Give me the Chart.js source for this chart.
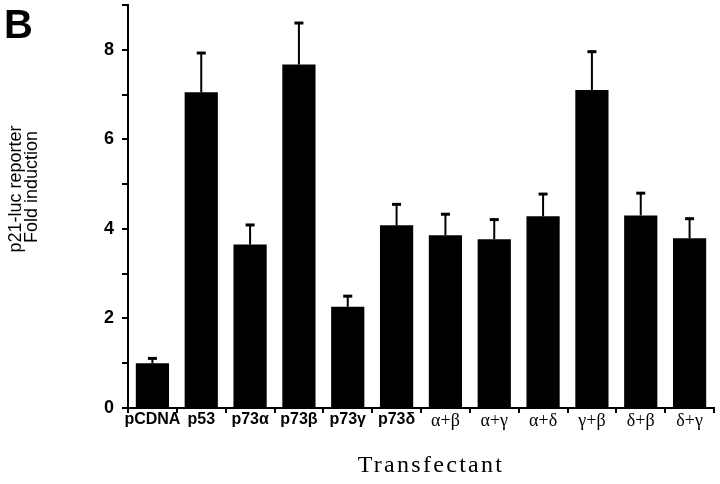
<!DOCTYPE html>
<html>
<head>
<meta charset="utf-8">
<script src="https://cdn.jsdelivr.net/npm/chart.js@4.4.1/dist/chart.umd.min.js"></script>
<style>
  html, body { margin: 0; padding: 0; background: #fff; }
  #wrap { width: 720px; height: 484px; }
</style>
</head>
<body>
<div id="wrap"><canvas id="fig"></canvas></div>
<script>
// Data
const transfectants = ['pCDNA', 'p53', 'p73α', 'p73β', 'p73γ', 'p73δ', 'α+β', 'α+γ', 'α+δ', 'γ+β', 'δ+β', 'δ+γ'];
const foldInduction = [1.0, 7.05, 3.65, 7.67, 2.26, 4.08, 3.86, 3.77, 4.28, 7.1, 4.3, 3.79];
const errorTop = [1.13, 7.95, 4.11, 8.62, 2.52, 4.57, 4.35, 4.23, 4.8, 7.98, 4.82, 4.25];
const yTicks = [0, 2, 4, 6, 8];

const SANS = '"Liberation Sans", Arial, sans-serif';
const SERIF = '"Liberation Serif", "Times New Roman", serif';

// error bars (upper only) + panel letter and axis titles
const extras = {
    id: 'extras',
    afterDatasetsDraw(chart) {
        const ctx = chart.ctx;
        const y = chart.scales.y;
        const bars = chart.getDatasetMeta(0).data;
        ctx.save();
        ctx.strokeStyle = '#000';
        bars.forEach((bar, i) => {
            const top = y.getPixelForValue(errorTop[i]);
            ctx.lineWidth = 2;
            ctx.beginPath();
            ctx.moveTo(bar.x, bar.y);
            ctx.lineTo(bar.x, top);
            ctx.stroke();
            ctx.lineWidth = 3;
            ctx.beginPath();
            ctx.moveTo(bar.x - 4.5, top + 1);
            ctx.lineTo(bar.x + 4.5, top + 1);
            ctx.stroke();
        });
        ctx.restore();
    },
    afterDraw(chart) {
        const ctx = chart.ctx;
        ctx.save();
        ctx.fillStyle = '#000';

        ctx.font = 'bold 40px ' + SANS;
        ctx.textAlign = 'left';
        ctx.textBaseline = 'alphabetic';
        ctx.fillText('B', 4, 38);

        // y title, rotated
        ctx.font = '18px ' + SANS;
        ctx.textAlign = 'center';
        ctx.save();
        ctx.translate(21, 189);
        ctx.rotate(-Math.PI / 2);
        ctx.fillText('p21-luc reporter', 0, 0);
        ctx.restore();
        ctx.save();
        ctx.translate(37, 187);
        ctx.rotate(-Math.PI / 2);
        ctx.fillText('Fold induction', 0, 0);
        ctx.restore();

        // x title, spaced out like the original
        ctx.font = '24px ' + SERIF;
        ctx.letterSpacing = '2.3px';
        ctx.fillText('Transfectant', 431, 472);
        ctx.restore();
    }
};

new Chart(document.getElementById('fig'), {
    type: 'bar',
    data: {
        labels: transfectants,
        datasets: [{
            data: foldInduction,
            backgroundColor: '#000',
            borderWidth: 0,
            categoryPercentage: 1,
            barPercentage: 0.68
        }]
    },
    options: {
        responsive: true,
        maintainAspectRatio: false,
        animation: false,
        layout: { padding: { top: 5, right: 6, left: 0, bottom: 0 } },
        plugins: { legend: { display: false }, tooltip: { enabled: false } },
        scales: {
            x: {
                afterFit: (s) => { s.height = 76; s.paddingLeft = 0; s.paddingRight = 0; },
                border: { display: true, color: '#000', width: 2 },
                grid: { offset: true, drawOnChartArea: false, drawTicks: true, tickLength: 5, color: '#000', lineWidth: 2 },
                ticks: {
                    color: '#000',
                    padding: -3,
                    maxRotation: 0,
                    autoSkip: false,
                    font: (c) => c.index >= 6
                        ? { family: SERIF, size: 18, weight: 'normal' }
                        : { family: SANS, size: 16, weight: 'bold' }
                }
            },
            y: {
                min: 0,
                max: 9,
                afterFit: (s) => { s.width = 128; s.paddingTop = 0; s.paddingBottom = 0; },
                border: { display: true, color: '#000', width: 2 },
                grid: { drawOnChartArea: false, drawTicks: true, tickLength: 6, color: '#000', lineWidth: 2 },
                ticks: {
                    stepSize: 1,
                    color: '#000',
                    padding: 8,
                    font: { family: SANS, size: 18, weight: 'bold' },
                    callback: (v) => yTicks.includes(v) ? String(v) : ''
                }
            }
        }
    },
    plugins: [extras]
});
</script>
</body>
</html>
